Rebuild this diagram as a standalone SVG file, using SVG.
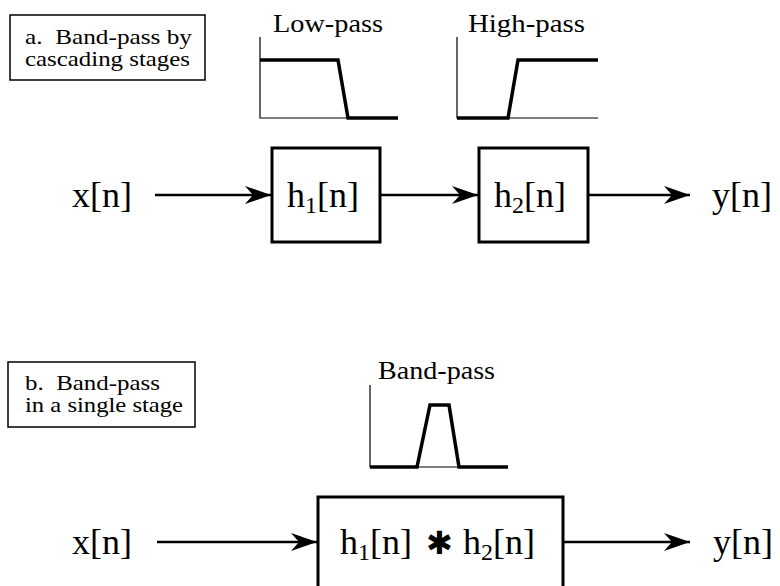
<svg xmlns="http://www.w3.org/2000/svg" width="780" height="586" viewBox="0 0 780 586" font-family="Liberation Serif, Times New Roman, serif">
<defs>
<style>
.t{font-family:Liberation Serif, serif;fill:#000}
.big{font-size:36px}
.lbl{font-size:21px}
.ttl{font-size:26px}
.box{fill:#fff;stroke:#000;stroke-width:3}
.lbox{fill:#fff;stroke:#000;stroke-width:1.5}
.ax{fill:none;stroke:#000;stroke-width:1.2}
.resp{fill:none;stroke:#000;stroke-width:3.5;stroke-linejoin:miter}
.conn{fill:none;stroke:#000;stroke-width:2.7}
</style>
<marker id="ah" markerUnits="userSpaceOnUse" markerWidth="28" markerHeight="20" refX="26" refY="9" orient="auto">
<path d="M0,0 L26,9 L0,18 L8,9 Z" fill="#000"/>
</marker>
</defs>
<rect width="780" height="586" fill="#fff"/>

<g id="label-a">
<rect class="lbox" x="10" y="15" width="195" height="65"/>
<text class="t lbl" x="25" y="44" textLength="167" lengthAdjust="spacingAndGlyphs" xml:space="preserve">a.  Band-pass by</text>
<text class="t lbl" x="25" y="66" textLength="165" lengthAdjust="spacingAndGlyphs">cascading stages</text>
</g>

<g id="lowpass-plot">
<text class="t ttl" x="273" y="32" textLength="110" lengthAdjust="spacingAndGlyphs">Low-pass</text>
<path class="ax" d="M260,37 V118 H348"/>
<path class="resp" d="M260,60 H338 L348,118 H398"/>
</g>

<g id="highpass-plot">
<text class="t ttl" x="468" y="32" textLength="117" lengthAdjust="spacingAndGlyphs">High-pass</text>
<path class="ax" d="M457,37 V118 H598"/>
<path class="resp" d="M457,118 H508 L518,60 H598"/>
</g>

<g id="x-a"><text class="t big" x="72" y="207">x[n]</text></g>

<g id="h1">
<rect class="box" x="272" y="148" width="108" height="94"/>
<text class="t big" x="287" y="207">h<tspan font-size="24" dy="6">1</tspan><tspan dy="-6">[n]</tspan></text>
</g>

<g id="h2">
<rect class="box" x="479" y="148" width="109" height="94"/>
<text class="t big" x="494" y="207">h<tspan font-size="24" dy="6">2</tspan><tspan dy="-6">[n]</tspan></text>
</g>

<g id="y-a"><text class="t big" x="712" y="207">y[n]</text></g>

<g id="label-b">
<rect class="lbox" x="8" y="362" width="187" height="65"/>
<text class="t lbl" x="25" y="390" textLength="135" lengthAdjust="spacingAndGlyphs" xml:space="preserve">b.  Band-pass</text>
<text class="t lbl" x="25" y="412" textLength="158" lengthAdjust="spacingAndGlyphs">in a single stage</text>
</g>

<g id="bandpass-plot">
<text class="t ttl" x="378" y="379" textLength="117" lengthAdjust="spacingAndGlyphs">Band-pass</text>
<path class="ax" d="M370,385 V467 H508"/>
<path class="resp" d="M370,467 H417 L430,405 H449 L459,467 H508"/>
</g>

<g id="x-b"><text class="t big" x="72" y="554">x[n]</text></g>

<g id="h12">
<rect class="box" x="318" y="497" width="245" height="110"/>
<text class="t big" x="340" y="554">h<tspan font-size="24" dy="6">1</tspan><tspan dy="-6">[n]</tspan></text>
<text x="426" y="554" font-family="DejaVu Sans" font-size="32" fill="#000">✱</text>
<text class="t big" x="463" y="554">h<tspan font-size="24" dy="6">2</tspan><tspan dy="-6">[n]</tspan></text>
</g>

<g id="y-b"><text class="t big" x="713" y="554">y[n]</text></g>

<g id="connectors">
<line class="conn" x1="155" y1="195" x2="271" y2="195" marker-end="url(#ah)"/>
<line class="conn" x1="380" y1="195" x2="478" y2="195" marker-end="url(#ah)"/>
<line class="conn" x1="588" y1="195" x2="690" y2="195" marker-end="url(#ah)"/>
<line class="conn" x1="157" y1="542" x2="317" y2="542" marker-end="url(#ah)"/>
<line class="conn" x1="563" y1="542" x2="690" y2="542" marker-end="url(#ah)"/>
</g>
</svg>
